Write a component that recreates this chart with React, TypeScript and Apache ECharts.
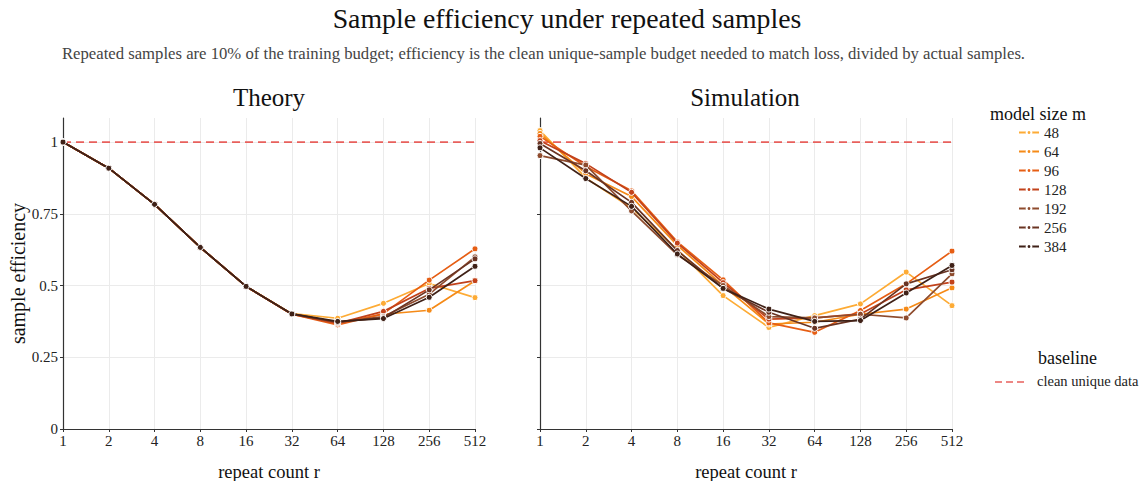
import React, { useEffect, useRef } from "react";
import * as echarts from "echarts";

const repeatCounts = ["1", "2", "4", "8", "16", "32", "64", "128", "256", "512"];
const modelSizes = ["48", "64", "96", "128", "192", "256", "384"];
const sizeColors = ["#fdab35", "#f58a17", "#e65e14", "#c2421b", "#8e4b2d", "#6a3423", "#3f2117"];

const theory48 = [1, 0.909, 0.783, 0.633, 0.497, 0.402, 0.386, 0.438, 0.507, 0.458];
const theory64 = [1, 0.909, 0.783, 0.633, 0.497, 0.4, 0.37, 0.4, 0.414, 0.517];
const theory96 = [1, 0.909, 0.783, 0.633, 0.497, 0.4, 0.363, 0.402, 0.519, 0.628];
const theory128 = [1, 0.909, 0.783, 0.633, 0.497, 0.4, 0.368, 0.41, 0.49, 0.517];
const theory192 = [1, 0.909, 0.783, 0.633, 0.497, 0.401, 0.372, 0.392, 0.47, 0.6];
const theory256 = [1, 0.909, 0.783, 0.633, 0.497, 0.401, 0.372, 0.388, 0.485, 0.593];
const theory384 = [1, 0.909, 0.783, 0.633, 0.497, 0.401, 0.375, 0.385, 0.459, 0.567];

const sim48 = [1.04, 0.875, 0.77, 0.625, 0.465, 0.354, 0.395, 0.436, 0.547, 0.43];
const sim64 = [1.03, 0.89, 0.81, 0.64, 0.5, 0.366, 0.372, 0.4, 0.418, 0.492];
const sim96 = [1.02, 0.915, 0.83, 0.652, 0.52, 0.37, 0.337, 0.413, 0.506, 0.62];
const sim128 = [1.005, 0.925, 0.825, 0.648, 0.51, 0.383, 0.387, 0.401, 0.485, 0.512];
const sim192 = [0.953, 0.92, 0.76, 0.607, 0.5, 0.392, 0.387, 0.4, 0.387, 0.541];
const sim256 = [0.995, 0.9, 0.79, 0.622, 0.49, 0.407, 0.351, 0.383, 0.506, 0.555];
const sim384 = [0.98, 0.873, 0.776, 0.61, 0.49, 0.418, 0.375, 0.378, 0.474, 0.57];

const baselineValue = 1;
const yTicks = [0, 0.25, 0.5, 0.75, 1];

const theoryData = [theory48, theory64, theory96, theory128, theory192, theory256, theory384];
const simData = [sim48, sim64, sim96, sim128, sim192, sim256, sim384];

const FAM = "'Liberation Serif', 'Times New Roman', serif";
const BASE_RED = "#e8605c";

export default function App() {
  const ref = useRef<HTMLDivElement>(null);
  useEffect(() => {
    if (!ref.current) return;
    const chart = echarts.init(ref.current, undefined, { renderer: "svg" });
    const xAxisBase = (gridIndex: number) => ({
      type: "category",
      gridIndex,
      data: repeatCounts,
      boundaryGap: false,
      name: "repeat count r",
      nameLocation: "middle",
      nameGap: 33,
      nameTextStyle: { fontFamily: FAM, fontSize: 18.5, color: "#111" },
      axisLine: { show: true, lineStyle: { color: "#333", width: 1.2 } },
      axisTick: { show: true, alignWithLabel: true, length: 3, lineStyle: { color: "#333" } },
      axisLabel: { fontFamily: FAM, fontSize: 15, color: "#222", margin: 4 },
      splitLine: { show: true, lineStyle: { color: "#ebebeb", width: 1 } },
    });
    const yAxisBase = (gridIndex: number, showLabels: boolean) => ({
      type: "value",
      gridIndex,
      min: 0,
      max: 1.084,
      name: showLabels ? "sample efficiency" : "",
      nameLocation: "middle",
      nameGap: 34,
      nameTextStyle: { fontFamily: FAM, fontSize: 20, color: "#111" },
      axisLine: { show: true, lineStyle: { color: "#333", width: 1.2 } },
      axisTick: { show: true, length: 3, customValues: yTicks, lineStyle: { color: "#333" } },
      axisLabel: { show: showLabels, customValues: yTicks, fontFamily: FAM, fontSize: 15, color: "#222", margin: 5 },
      splitLine: { show: true, lineStyle: { color: "#ebebeb", width: 1 } },
    });
    const baselineSeries = (idx: number) => ({
      name: "clean unique data",
      type: "line",
      xAxisIndex: idx,
      yAxisIndex: idx,
      data: repeatCounts.map(() => baselineValue),
      symbol: "none",
      showSymbol: false,
      lineStyle: { color: BASE_RED, width: 1.6, type: [8, 5] },
      itemStyle: { color: BASE_RED },
      z: 1,
    });
    const sizeSeries = (idx: number, sets: number[][]) =>
      sets.map((vals, i) => ({
        name: modelSizes[i],
        type: "line",
        xAxisIndex: idx,
        yAxisIndex: idx,
        data: vals,
        symbol: "circle",
        symbolSize: 6,
        lineStyle: { color: sizeColors[i], width: 1.7 },
        itemStyle: { color: sizeColors[i], borderColor: "#fff", borderWidth: 1 },
        z: 2 + i,
      }));
    const txt = (text: string, x: number, y: number, size: number, color = "#111", align = "center") => ({
      type: "text",
      x,
      y,
      silent: true,
      style: {
        text,
        fill: color,
        font: `${size}px ${FAM}`,
        fontFamily: FAM,
        fontSize: size,
        align,
        verticalAlign: "middle",
      },
    });
    chart.setOption({
      animation: false,
      backgroundColor: "#fff",
      textStyle: { fontFamily: FAM },
      grid: [
        { left: 63, top: 118, width: 412, height: 311, containLabel: false, outerBoundsMode: "none" },
        { left: 540, top: 118, width: 412, height: 311, containLabel: false, outerBoundsMode: "none" },
      ],
      xAxis: [xAxisBase(0), xAxisBase(1)],
      yAxis: [yAxisBase(0, true), yAxisBase(1, false)],
      legend: [
        {
          data: modelSizes,
          orient: "vertical",
          left: 1013,
          top: 120,
          itemWidth: 20,
          itemHeight: 6,
          itemGap: 4,
          textStyle: { fontFamily: FAM, fontSize: 15, color: "#222" },
        },
      ],
      graphic: [
        txt("Sample efficiency under repeated samples", 567, 18, 27.8),
        txt(
          "Repeated samples are 10% of the training budget; efficiency is the clean unique-sample budget needed to match loss, divided by actual samples.",
          543.5,
          53,
          16.7,
          "#444"
        ),
        txt("Theory", 269, 97, 25),
        txt("Simulation", 745, 97, 25),
        txt("model size m", 990, 114, 18, "#111", "left"),
        txt("baseline", 1038, 358, 18, "#111", "left"),
        {
          type: "line",
          silent: true,
          shape: { x1: 995, y1: 382, x2: 1025, y2: 382 },
          style: { stroke: BASE_RED, lineWidth: 1.6, lineDash: [7, 4] },
        },
        txt("clean unique data", 1037, 381, 14.5, "#222", "left"),
      ],
      series: [
        baselineSeries(0),
        ...sizeSeries(0, theoryData),
        baselineSeries(1),
        ...sizeSeries(1, simData),
      ],
    });
    return () => chart.dispose();
  }, []);
  return (
    <div
      ref={ref}
      style={{ position: "fixed", left: 0, top: 0, width: 1143, height: 481 }}
    />
  );
}
